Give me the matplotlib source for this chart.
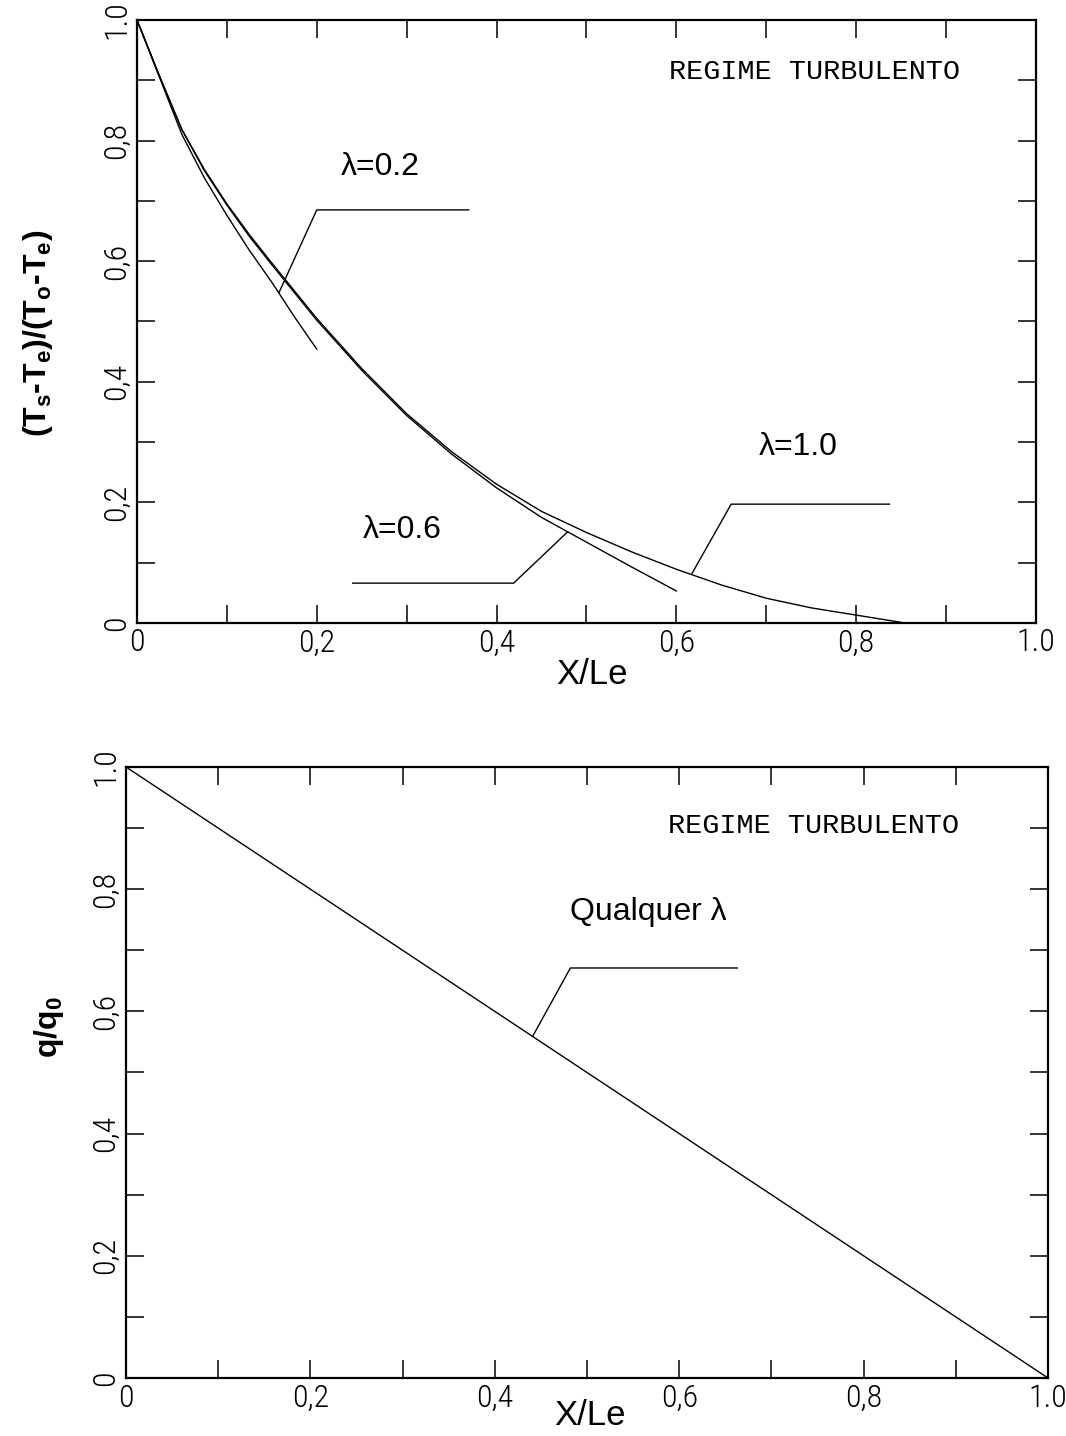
import matplotlib
matplotlib.use('Agg')
import matplotlib.pyplot as plt
from matplotlib import font_manager as fm

# ---------------- data ----------------
x_l02 = [0.0, 0.025, 0.05, 0.075, 0.10, 0.125, 0.15, 0.175, 0.20]
y_l02 = [1.0, 0.905, 0.810, 0.738, 0.676, 0.618, 0.565, 0.508, 0.454]

x_l06 = [0.0, 0.025, 0.05, 0.075, 0.10, 0.125, 0.15, 0.20, 0.25, 0.30, 0.35, 0.40, 0.45, 0.50, 0.55, 0.60]
y_l06 = [1.0, 0.907, 0.818, 0.750, 0.693, 0.641, 0.594, 0.502, 0.419, 0.344, 0.280, 0.224, 0.175, 0.134, 0.093, 0.053]

x_l10 = [0.0, 0.025, 0.05, 0.075, 0.10, 0.125, 0.15, 0.20, 0.25, 0.30, 0.35, 0.40, 0.45, 0.50,
         0.55, 0.60, 0.65, 0.70, 0.75, 0.80, 0.85]
y_l10 = [1.0, 0.907, 0.818, 0.752, 0.695, 0.644, 0.597, 0.505, 0.422, 0.347, 0.284, 0.230, 0.185, 0.150,
         0.118, 0.089, 0.063, 0.041, 0.025, 0.013, 0.001]

x_q = [0.0, 1.0]
y_q = [1.0, 0.0]

major_ticks = [0.0, 0.2, 0.4, 0.6, 0.8, 1.0]
minor_ticks = [0.1, 0.3, 0.5, 0.7, 0.9]
tick_labels = ['0', '0,2', '0,4', '0,6', '0,8', '1.0']

curve_labels = ['λ=0.2', 'λ=0.6', 'λ=1.0']
q_label = 'Qualquer λ'
regime_text = 'REGIME TURBULENTO'

# leader lines (label -> curve), in data units
leaders_top = [
    ([0.369, 0.200, 0.158], [0.685, 0.685, 0.548]),
    ([0.240, 0.419, 0.479], [0.066, 0.066, 0.151]),
    ([0.837, 0.661, 0.617], [0.197, 0.197, 0.081]),
]
label_pos_top = [(0.271, 0.756), (0.295, 0.154), (0.736, 0.292)]
leader_bot = ([0.663, 0.482, 0.441], [0.671, 0.671, 0.559])
label_pos_bot = (0.566, 0.763)

# ---------------- fonts ----------------
plt.rcParams['mathtext.fontset'] = 'custom'
plt.rcParams['mathtext.rm'] = 'Liberation Sans'
plt.rcParams['mathtext.bf'] = 'Liberation Sans:bold'
plt.rcParams['font.family'] = ['Liberation Sans', 'DejaVu Sans']

names = {f.name for f in fm.fontManager.ttflist}
if 'Liberation Sans Narrow' in names:
    tick_font, tick_size = ['Liberation Sans Narrow', 'DejaVu Sans'], 23
elif 'Roboto Condensed' in names:
    tick_font, tick_size = ['Roboto Condensed', 'DejaVu Sans'], 23
else:
    tick_font, tick_size = ['Liberation Sans', 'DejaVu Sans'], 19
mono_font = ['Liberation Mono', 'DejaVu Sans Mono']

fig = plt.figure(figsize=(10.66, 14.36), dpi=100)
ax1 = fig.add_axes([0.1285, 0.5662, 0.8433, 0.4199])
ax2 = fig.add_axes([0.1182, 0.0404, 0.8649, 0.4255])


def style_axes(ax):
    ax.set_xlim(0, 1)
    ax.set_ylim(0, 1)
    ax.set_xticks(major_ticks)
    ax.set_yticks(major_ticks)
    ax.set_xticks(minor_ticks, minor=True)
    ax.set_yticks(minor_ticks, minor=True)
    ax.set_xticklabels(tick_labels, fontfamily=tick_font, fontsize=tick_size,
                       fontweight='light')
    ax.set_yticklabels(tick_labels, fontfamily=tick_font, fontsize=tick_size,
                       fontweight='light', rotation=90, va='center')
    ax.tick_params(which='both', direction='in', length=13, width=1.1,
                   top=True, right=True, color='black')
    ax.tick_params(axis='x', pad=4)
    ax.tick_params(axis='y', pad=4)
    for s in ax.spines.values():
        s.set_linewidth(1.6)


style_axes(ax1)
style_axes(ax2)

lw = 1.0
ax1.plot(x_l02, y_l02, color='black', lw=lw)
ax1.plot(x_l06, y_l06, color='black', lw=lw)
ax1.plot(x_l10, y_l10, color='black', lw=lw)
for (lx, ly), txt, pos in zip(leaders_top, curve_labels, label_pos_top):
    ax1.plot(lx, ly, color='black', lw=lw)
    ax1.text(pos[0], pos[1], txt, fontsize=23, ha='center', va='center')
ax1.text(0.592, 0.913, regime_text, fontfamily=mono_font, fontsize=20.5,
         ha='left', va='center')

ax2.plot(x_q, y_q, color='black', lw=lw)
ax2.plot(leader_bot[0], leader_bot[1], color='black', lw=lw)
ax2.text(label_pos_bot[0], label_pos_bot[1], q_label, fontsize=23, ha='center', va='center')
ax2.text(0.588, 0.903, regime_text, fontfamily=mono_font, fontsize=20.5,
         ha='left', va='center')

# axis labels
ax1.set_xlabel('X/Le', fontsize=25)
ax1.xaxis.set_label_coords(0.506, -0.086)
ax1.xaxis.label.set_va('center')
ax1.set_ylabel(r'(T$_\mathbf{s}$-T$_\mathbf{e}$)/(T$_\mathbf{o}$-T$_\mathbf{e}$)',
               fontsize=23, fontweight='bold')
ax1.yaxis.set_label_coords(-0.110, 0.481)
ax1.yaxis.label.set_va('center')

ax2.set_xlabel('X/Le', fontsize=25)
ax2.xaxis.set_label_coords(0.503, -0.061)
ax2.xaxis.label.set_va('center')
ax2.set_ylabel(r'q/q$_\mathbf{0}$', fontsize=23, fontweight='bold')
ax2.yaxis.set_label_coords(-0.0835, 0.574)
ax2.yaxis.label.set_va('center')

fig.savefig('out.png', dpi=100)
